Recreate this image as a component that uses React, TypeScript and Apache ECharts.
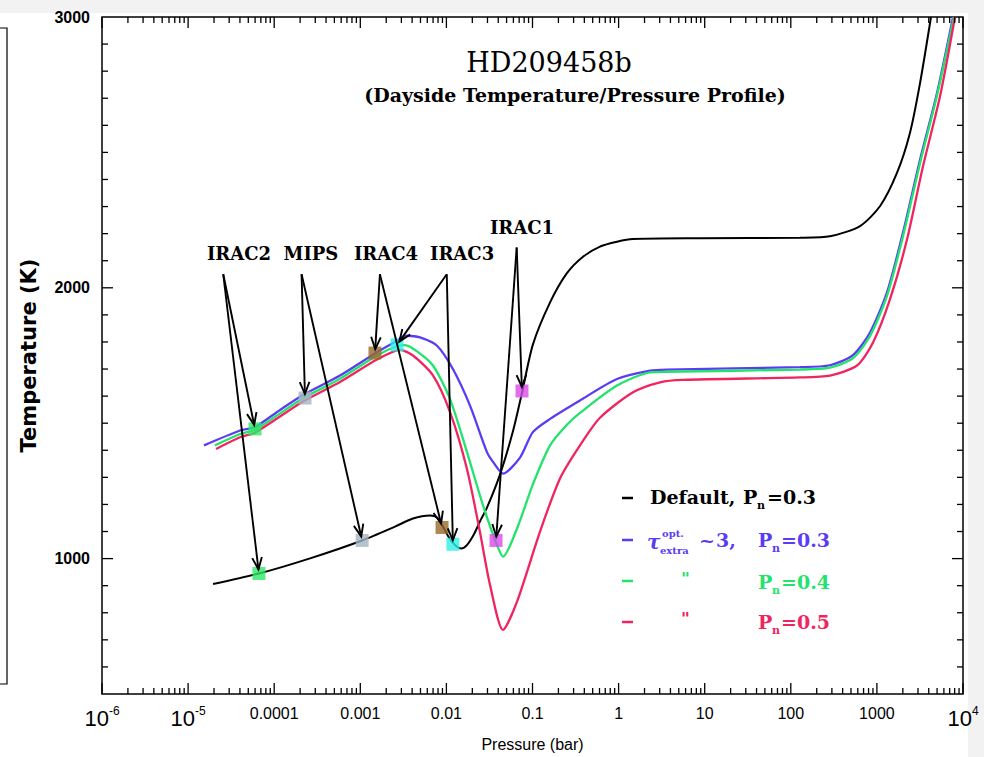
import React, { useEffect, useRef } from 'react';
import * as echarts from 'echarts';

// ---------- data (pressure in bar, temperature in K) ----------
const defaultP = [1.95e-5, 6.65e-5, 2.61e-4, 1.05e-3, 2.53e-3, 4.09e-3, 6.46e-3, 7.78e-3, 9.12e-3, 1.07e-2, 1.26e-2, 1.48e-2, 1.73e-2, 2.09e-2, 2.52e-2, 2.96e-2, 4.2e-2, 5.94e-2, 7.55e-2, 0.101, 0.16, 0.251, 0.386, 0.608, 0.957, 1.47, 8.81, 128, 285, 637, 1090, 1710, 2420, 3170, 4250];
const defaultT = [906, 945, 1001, 1067, 1118, 1148, 1159, 1152, 1118, 1078, 1050, 1037, 1050, 1090, 1145, 1188, 1311, 1471, 1612, 1790, 1946, 2054, 2115, 2152, 2170, 2180, 2183, 2185, 2190, 2228, 2302, 2424, 2572, 2756, 3000];

const tau03P = [1.53e-5, 4.01e-5, 5.98e-5, 1.17e-4, 2.16e-4, 5.81e-4, 1.56e-3, 2.53e-3, 3.48e-3, 4.93e-3, 7.78e-3, 1.19e-2, 1.88e-2, 2.96e-2, 3.48e-2, 4.54e-2, 7.16e-2, 0.101, 0.16, 0.356, 0.957, 2.32, 3.65, 128, 285, 527, 832, 1310, 2010, 3170, 4990, 7660];
const tau03T = [1418, 1473, 1486, 1549, 1604, 1676, 1762, 1800, 1823, 1817, 1786, 1700, 1565, 1393, 1357, 1314, 1373, 1467, 1516, 1584, 1663, 1694, 1698, 1707, 1714, 1751, 1835, 1983, 2204, 2473, 2719, 3000];

const tau04P = [2.05e-5, 4.01e-5, 5.98e-5, 2.16e-4, 5.81e-4, 1.56e-3, 2.67e-3, 3.3e-3, 4.56e-3, 6.98e-3, 1.1e-2, 1.73e-2, 2.66e-2, 3.87e-2, 4.54e-2, 6.61e-2, 0.101, 0.16, 0.251, 0.356, 0.957, 2.32, 3.65, 128, 285, 527, 832, 1310, 2010, 3170, 4990, 7850];
const tau04T = [1418, 1460, 1476, 1592, 1664, 1750, 1785, 1788, 1765, 1713, 1590, 1394, 1197, 1050, 1007, 1111, 1274, 1418, 1494, 1538, 1639, 1688, 1690, 1698, 1705, 1740, 1822, 1970, 2190, 2460, 2710, 3000];

const tau05P = [2.11e-5, 4.01e-5, 5.98e-5, 2.16e-4, 5.81e-4, 1.56e-3, 2.89e-3, 4.09e-3, 6.98e-3, 1.1e-2, 1.73e-2, 2.45e-2, 3.21e-2, 4.54e-2, 6.61e-2, 0.122, 0.208, 0.356, 0.608, 1.47, 3.03, 5.6, 128, 285, 587, 902, 1420, 2240, 3430, 5410, 8070];
const tau05T = [1405, 1448, 1465, 1580, 1652, 1735, 1771, 1750, 1677, 1542, 1332, 1099, 903, 737, 841, 1099, 1295, 1418, 1520, 1614, 1651, 1660, 1669, 1676, 1713, 1798, 1958, 2179, 2449, 2707, 3000];

// photosphere markers for each Spitzer band
const bandNames = ['IRAC2', 'MIPS', 'IRAC4', 'IRAC3', 'IRAC1'];
const bandColors = ['#2ee866', '#a3b5c2', '#98692c', '#2ef0e8', '#d84ae8'];
const upperP = [5.98e-5, 2.28e-4, 1.48e-3, 2.67e-3, 7.55e-2];
const upperT = [1479, 1593, 1759, 1789, 1619];
const lowerP = [6.65e-5, 1.05e-3, 8.9e-3, 1.19e-2, 3.77e-2];
const lowerT = [945, 1067, 1115, 1053, 1067];
const arrowTailP = [2.56e-5, 2.08e-4, 1.69e-3, 1.01e-2, 6.55e-2];
const arrowTailT = [2050, 2050, 2050, 2050, 2149];
const labelP = [3.9e-5, 2.67e-4, 1.99e-3, 1.52e-2, 7.55e-2];
const labelT = [2127, 2127, 2127, 2127, 2223];

// axis tick labels (decades 1e-6 .. 1e4)
const xTickLabels = ['{b|10}{s|-6}', '{b|10}{s|-5}', '0.0001', '0.001', '0.01', '0.1', '1', '10', '100', '1000', '{b|10}{s|4}'];
const yTickLabels = ['1000', '2000', '3000'];

const COLORS = { black: '#000000', blue: '#5a3cf5', green: '#22e36c', red: '#f0245e' };
const SERIF = "'DejaVu Serif', serif";
const SANS = "'Liberation Sans', Arial, sans-serif";

const X_MIN = 1e-6;
const X_MAX = 1e4;
const Y_MIN = 500;
const Y_MAX = 3000;

export default function App() {
  const ref = useRef<HTMLDivElement>(null);

  useEffect(() => {
    if (!ref.current) return;
    const chart = echarts.init(ref.current, null, { renderer: 'svg' });

    const pairs = (p: number[], t: number[]) => p.map((v, i) => [v, t[i]]);

    // tick marks (drawn inside, on all four sides)
    const tickData: number[][] = [];
    for (let e = -6; e <= 4; e++) {
      tickData.push([Math.pow(10, e), Y_MIN, 1]);
      if (e < 4) for (let k = 2; k <= 9; k++) tickData.push([k * Math.pow(10, e), Y_MIN, 0]);
    }
    for (let t = 600; t < 3000; t += 100) tickData.push([X_MIN, t, t % 1000 === 0 ? 3 : 2]);

    const arrowData: number[][] = [];
    bandNames.forEach((_, i) => {
      arrowData.push([arrowTailP[i], arrowTailT[i], upperP[i], upperT[i]]);
      arrowData.push([arrowTailP[i], arrowTailT[i], lowerP[i], lowerT[i]]);
    });

    const markerData: any[] = [];
    bandNames.forEach((n, i) => {
      markerData.push({ name: n, value: [upperP[i], upperT[i]], itemStyle: { color: bandColors[i] } });
      markerData.push({ name: n, value: [lowerP[i], lowerT[i]], itemStyle: { color: bandColors[i] } });
    });

    const labelData = bandNames.map((_, i) => [labelP[i], labelT[i], i]);

    const lineSeries = (name: string, data: number[][], color: string, width: number) => ({
      type: 'line',
      name,
      data,
      showSymbol: false,
      symbol: 'none',
      smooth: 0.25,
      lineStyle: { color, width },
      z: 2,
      silent: true,
    });

    const txt = (x: number, y: number, text: string, fill: string, size: number, extra: any = {}) => ({
      type: 'text',
      x,
      y,
      z: 20,
      style: {
        text,
        fill,
        fontFamily: SERIF,
        fontWeight: 'bold',
        fontSize: size,
        align: 'left',
        verticalAlign: 'middle',
        ...extra,
      },
    });
    const dash = (y: number, color: string) => ({
      type: 'line',
      z: 20,
      shape: { x1: 622, y1: y, x2: 633, y2: y },
      style: { stroke: color, lineWidth: 2.5 },
    });

    const graphic: any[] = [
      // cropped neighbouring panel on the far left
      { type: 'rect', shape: { x: -10, y: 28, width: 17, height: 656 }, style: { fill: 'none', stroke: '#000', lineWidth: 1.2 } },
      // title
      txt(549, 62, 'HD209458b', '#000', 27, { align: 'center', fontWeight: 'normal' }),
      txt(575, 95, '(Dayside Temperature/Pressure Profile)', '#000', 19, { align: 'center' }),
      // legend row 1
      dash(498, COLORS.black),
      txt(650, 497, 'Default,', COLORS.black, 19),
      txt(743, 497, 'P', COLORS.black, 19),
      txt(757, 505, 'n', COLORS.black, 11),
      txt(767, 497, '=0.3', COLORS.black, 19),
      // legend row 2
      dash(540, COLORS.blue),
      txt(647, 542, 'τ', COLORS.blue, 20, { fontStyle: 'italic' }),
      txt(662, 533, 'opt.', COLORS.blue, 10),
      txt(660, 550, 'extra', COLORS.blue, 10),
      txt(699, 540, '~', COLORS.blue, 19),
      txt(716, 540, '3,', COLORS.blue, 19),
      txt(758, 540, 'P', COLORS.blue, 19),
      txt(772, 548, 'n', COLORS.blue, 11),
      txt(781, 540, '=0.3', COLORS.blue, 19),
      // legend row 3
      dash(581, COLORS.green),
      txt(681, 578, '"', COLORS.green, 17),
      txt(758, 582, 'P', COLORS.green, 19),
      txt(772, 590, 'n', COLORS.green, 11),
      txt(781, 582, '=0.4', COLORS.green, 19),
      // legend row 4
      dash(622, COLORS.red),
      txt(681, 618, '"', COLORS.red, 17),
      txt(758, 622, 'P', COLORS.red, 19),
      txt(772, 630, 'n', COLORS.red, 11),
      txt(781, 622, '=0.5', COLORS.red, 19),
    ];

    const option: any = {
      animation: false,
      backgroundColor: 'transparent',
      grid: { left: 102, top: 17, width: 861, height: 679, show: true, borderColor: '#000', borderWidth: 1.5, backgroundColor: 'transparent' },
      xAxis: {
        type: 'log',
        logBase: 10,
        min: X_MIN,
        max: X_MAX,
        interval: 1,
        splitNumber: 10,
        axisLine: { show: false },
        axisTick: { show: false },
        splitLine: { show: false },
        minorTick: { show: false },
        axisLabel: {
          formatter: (v: number) => {
            const idx = Math.round(Math.log10(v)) + 6;
            return xTickLabels[idx] ?? '';
          },
          fontFamily: SANS,
          fontSize: 16,
          color: '#000',
          margin: 11,
          showMinLabel: true,
          showMaxLabel: true,
          hideOverlap: false,
          rich: {
            b: { fontFamily: SANS, fontSize: 22, color: '#000', lineHeight: 24, verticalAlign: 'bottom' },
            s: { fontFamily: SANS, fontSize: 12, color: '#000', lineHeight: 12, verticalAlign: 'top' },
          },
        },
        name: 'Pressure (bar)',
        nameLocation: 'middle',
        nameGap: 42,
        nameTextStyle: { fontFamily: SANS, fontSize: 16, color: '#000' },
      },
      yAxis: {
        type: 'value',
        min: Y_MIN,
        max: Y_MAX,
        interval: 500,
        axisLine: { show: false },
        axisTick: { show: false },
        splitLine: { show: false },
        axisLabel: {
          formatter: (v: number) => (yTickLabels.includes(String(v)) ? String(v) : ''),
          fontFamily: SANS,
          fontWeight: 'bold',
          fontSize: 16,
          color: '#000',
          margin: 12,
          showMinLabel: true,
          showMaxLabel: true,
        },
        name: 'Temperature (K)',
        nameLocation: 'middle',
        nameGap: 63,
        nameRotate: 90,
        nameTextStyle: { fontFamily: "'DejaVu Sans', sans-serif", fontWeight: 'bold', fontSize: 21, color: '#000' },
      },
      graphic,
      series: [
        lineSeries('Default, Pn=0.3', pairs(defaultP, defaultT), COLORS.black, 2),
        lineSeries('tau~3, Pn=0.3', pairs(tau03P, tau03T), COLORS.blue, 2.3),
        lineSeries('Pn=0.4', pairs(tau04P, tau04T), COLORS.green, 2.3),
        lineSeries('Pn=0.5', pairs(tau05P, tau05T), COLORS.red, 2.3),
        {
          type: 'scatter',
          name: 'bands',
          symbol: 'rect',
          symbolSize: 13,
          data: markerData,
          z: 3,
          silent: true,
        },
        {
          type: 'custom',
          name: 'arrows',
          coordinateSystem: 'cartesian2d',
          encode: { x: [0, 2], y: [1, 3] },
          data: arrowData,
          z: 4,
          silent: true,
          clip: false,
          renderItem: (params: any, api: any) => {
            const a = api.coord([api.value(0), api.value(1)]);
            const b = api.coord([api.value(2), api.value(3)]);
            const dx = b[0] - a[0];
            const dy = b[1] - a[1];
            const L = Math.hypot(dx, dy) || 1;
            const ux = dx / L;
            const uy = dy / L;
            const tip = [b[0] - ux * 4, b[1] - uy * 4];
            const hl = 13;
            const ang = 0.38;
            const rot = (vx: number, vy: number, t: number) => [vx * Math.cos(t) - vy * Math.sin(t), vx * Math.sin(t) + vy * Math.cos(t)];
            const w1 = rot(-ux, -uy, ang);
            const w2 = rot(-ux, -uy, -ang);
            const st = { stroke: '#000', lineWidth: 1.9, fill: 'none' };
            return {
              type: 'group',
              children: [
                { type: 'line', shape: { x1: a[0], y1: a[1], x2: tip[0], y2: tip[1] }, style: st },
                {
                  type: 'polyline',
                  shape: { points: [[tip[0] + w1[0] * hl, tip[1] + w1[1] * hl], tip, [tip[0] + w2[0] * hl, tip[1] + w2[1] * hl]] },
                  style: st,
                },
              ],
            };
          },
        },
        {
          type: 'custom',
          name: 'band labels',
          coordinateSystem: 'cartesian2d',
          encode: { x: 0, y: 1 },
          data: labelData,
          z: 5,
          silent: true,
          clip: false,
          renderItem: (params: any, api: any) => {
            const p = api.coord([api.value(0), api.value(1)]);
            return {
              type: 'text',
              x: p[0],
              y: p[1],
              style: {
                text: bandNames[api.value(2)],
                fill: '#000',
                fontFamily: SERIF,
                fontWeight: 'bold',
                fontSize: 18,
                align: 'center',
                verticalAlign: 'middle',
              },
            };
          },
        },
        {
          type: 'custom',
          name: 'ticks',
          coordinateSystem: 'cartesian2d',
          encode: { x: 0, y: 1 },
          data: tickData,
          z: 6,
          silent: true,
          clip: false,
          renderItem: (params: any, api: any) => {
            const cs = params.coordSys;
            const left = cs.x;
            const right = cs.x + cs.width;
            const top = cs.y;
            const bottom = cs.y + cs.height;
            const kind = api.value(2);
            const st = { stroke: '#000', lineWidth: 1.3 };
            if (kind <= 1) {
              const px = api.coord([api.value(0), Y_MIN])[0];
              const len = kind === 1 ? 11 : 6;
              return {
                type: 'group',
                children: [
                  { type: 'line', shape: { x1: px, y1: bottom, x2: px, y2: bottom - len }, style: st },
                  { type: 'line', shape: { x1: px, y1: top, x2: px, y2: top + len }, style: st },
                ],
              };
            }
            const py = api.coord([X_MIN, api.value(1)])[1];
            const len = kind === 3 ? 11 : 6;
            return {
              type: 'group',
              children: [
                { type: 'line', shape: { x1: left, y1: py, x2: left + len, y2: py }, style: st },
                { type: 'line', shape: { x1: right, y1: py, x2: right - len, y2: py }, style: st },
              ],
            };
          },
        },
      ],
    };

    chart.setOption(option);
    return () => chart.dispose();
  }, []);

  return (
    <div style={{ position: 'fixed', left: 0, top: 0, width: 984, height: 757, background: '#f2f2f2', overflow: 'hidden' }}>
      <div style={{ position: 'absolute', left: 0, top: 13, width: 968, height: 744, background: '#ffffff' }} />
      <div ref={ref} style={{ position: 'absolute', left: 0, top: 0, width: 984, height: 757 }} />
    </div>
  );
}
